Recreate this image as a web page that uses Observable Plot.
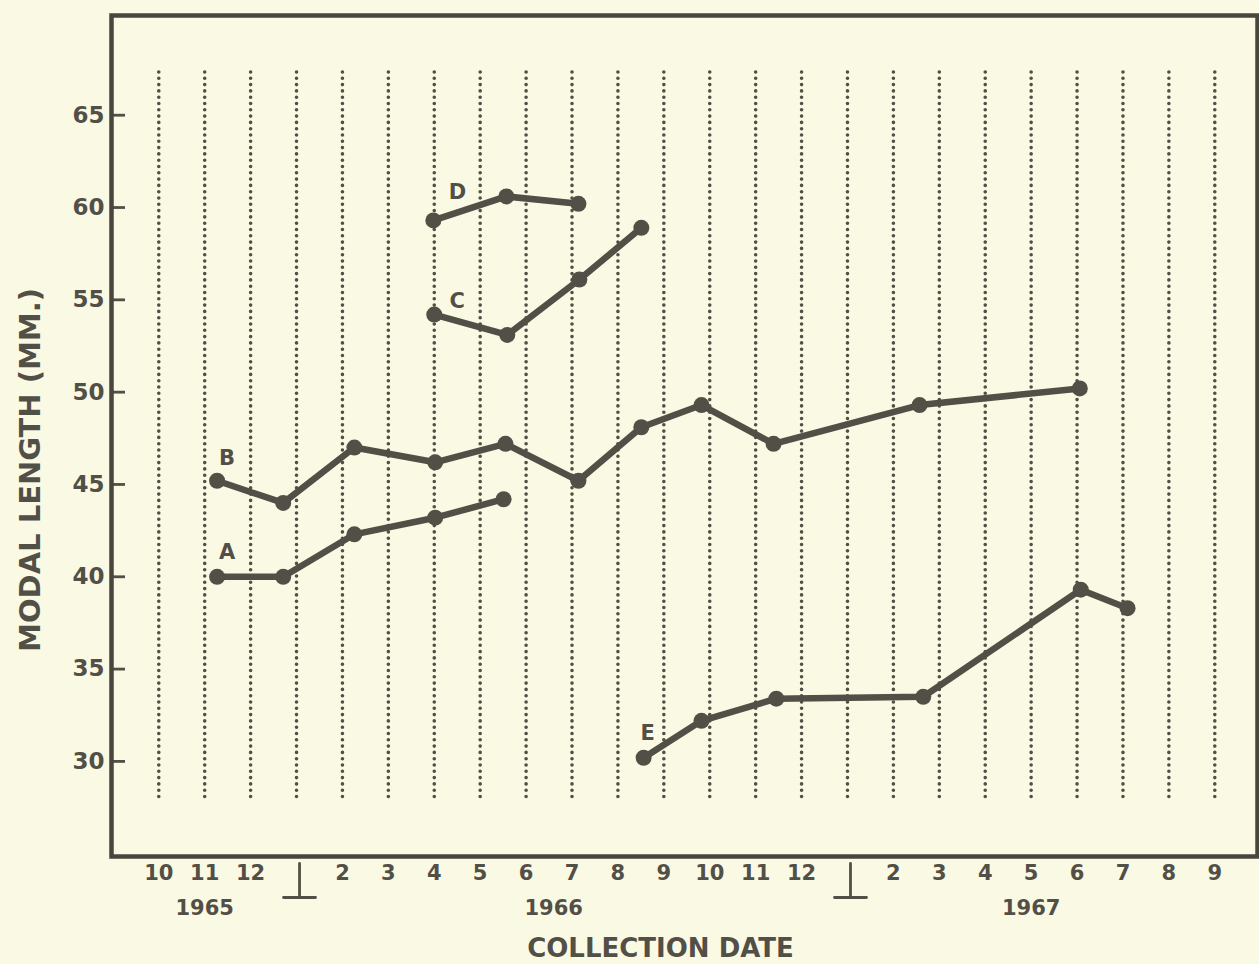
<!DOCTYPE html>
<html>
<head>
<meta charset="utf-8">
<script src="https://cdn.jsdelivr.net/npm/d3@7"></script>
<script src="https://cdn.jsdelivr.net/npm/@observablehq/plot@0.6"></script>
<style>
  html, body { margin: 0; padding: 0; background: #faf9e3; }
  #chart svg { display: block; }
</style>
</head>
<body>
<div id="chart"></div>
<script>
// ---- Data (month index: 0 = Oct 1965 ... 23 = Sep 1967) ----
const monthLabels = ["10","11","12","","2","3","4","5","6","7","8","9","10","11","12","","2","3","4","5","6","7","8","9"];
const yearBreaks = [3, 15];           // January positions, marked with ⊥
const yearLabels = ["1965", "1966", "1967"];
const yearLabelPos = [1, 8.6, 19];
const yTicks = [30, 35, 40, 45, 50, 55, 60, 65];

const seriesNames = ["A", "B", "C", "D", "E"];
const seriesA_x = [1.27, 2.71, 4.26, 6.02, 7.51];
const seriesA_y = [40.0, 40.0, 42.3, 43.2, 44.2];
const seriesB_x = [1.27, 2.71, 4.26, 6.02, 7.55, 9.14, 10.51, 11.82, 13.39, 16.57, 20.06];
const seriesB_y = [45.2, 44.0, 47.0, 46.2, 47.2, 45.2, 48.1, 49.3, 47.2, 49.3, 50.2];
const seriesC_x = [6.0, 7.59, 9.16, 10.51];
const seriesC_y = [54.2, 53.1, 56.1, 58.9];
const seriesD_x = [5.98, 7.57, 9.14];
const seriesD_y = [59.3, 60.6, 60.2];
const seriesE_x = [10.56, 11.82, 13.45, 16.65, 20.08, 21.1];
const seriesE_y = [30.2, 32.2, 33.4, 33.5, 39.3, 38.3];

// ---- Build tidy table ----
const xs = {A: seriesA_x, B: seriesB_x, C: seriesC_x, D: seriesD_x, E: seriesE_x};
const ys = {A: seriesA_y, B: seriesB_y, C: seriesC_y, D: seriesD_y, E: seriesE_y};
const points = seriesNames.flatMap(s => xs[s].map((x, i) => ({series: s, x, y: ys[s][i]})));

// label offsets (pixels) relative to first point of each series
const labelOffset = {A: [10, -25], B: [10, -23], C: [23, -13], D: [24, -28], E: [4, -24]};

const ink = "#524f47";
const font = "'DejaVu Sans', sans-serif";
const months = d3.range(monthLabels.length);

const teeShape = {
  draw(context, l) {
    context.moveTo(0, -7);
    context.lineTo(0, -l);
    context.moveTo(-16, -l);
    context.lineTo(16, -l);
  }
};

const W = 1259, H = 964;
const mL = 111, mR = 2, mT = 15, mB = 108;
const plotW = W - mL - mR;

const seriesLabels = seriesNames.map(s =>
  Plot.text([{series: s, x: xs[s][0], y: ys[s][0]}], {
    x: "x", y: "y", text: "series",
    dx: labelOffset[s][0], dy: labelOffset[s][1],
    fontSize: 21, fontWeight: "bold", fill: ink
  })
);

const chart = Plot.plot({
  width: W,
  height: H,
  marginLeft: mL,
  marginRight: mR,
  marginTop: mT,
  marginBottom: mB,
  style: {background: "#faf9e3", fontFamily: font, color: ink},
  x: {domain: [-1.03, 23.93], axis: null},
  y: {domain: [24.85, 70.4], axis: null},
  marks: [
    // dotted vertical month guides
    Plot.ruleX(months, {x: d => d, stroke: ink, strokeWidth: 3.6, strokeDasharray: "0 6.3", strokeLinecap: "round", insetTop: 57, insetBottom: 54}),
    // y axis labels and inward ticks
    Plot.axisY({ticks: yTicks, tickSize: 0, tickPadding: 7, fontSize: 23, fontWeight: "bold", label: null, fill: ink, style: {letterSpacing: "2px"}}),
    Plot.tickY(yTicks, {y: d => d, stroke: ink, strokeWidth: 2.8, insetRight: plotW - 14}),
    // x axis month labels
    Plot.axisX({ticks: months, tickFormat: i => monthLabels[i], tickSize: 0, tickPadding: 9, fontSize: 21, fontWeight: "bold", label: null, fill: ink}),
    // year break marks ⊥
    Plot.vector(yearBreaks, {x: d => d, frameAnchor: "bottom", rotate: 180, length: 41, anchor: "start", shape: teeShape, stroke: ink, strokeWidth: 2.8, dx: 3}),
    // year labels
    Plot.text(yearLabels, {x: (d, i) => yearLabelPos[i], text: d => d, frameAnchor: "bottom", lineAnchor: "middle", dy: 52, fontSize: 21, fontWeight: "bold", fill: ink, style: {letterSpacing: "2px"}}),
    // axis titles
    Plot.text(["COLLECTION DATE"], {text: d => d, frameAnchor: "bottom", lineAnchor: "middle", dy: 92, dx: -24, fontSize: 26, fontWeight: "bold", fill: ink}),
    Plot.text(["MODAL LENGTH (MM.)"], {text: d => d, frameAnchor: "left", textAnchor: "middle", lineAnchor: "middle", rotate: -90, dx: -81, dy: 34, fontSize: 29, fontWeight: "bold", fill: ink, style: {letterSpacing: "0.8px"}}),
    // series lines and points
    Plot.line(points, {x: "x", y: "y", z: "series", stroke: ink, strokeWidth: 6.5, strokeLinejoin: "round"}),
    Plot.dot(points, {x: "x", y: "y", r: 8, fill: ink}),
    ...seriesLabels,
    Plot.frame({stroke: "#48463e", strokeWidth: 4.5})
  ]
});

document.getElementById("chart").appendChild(chart);
</script>
</body>
</html>
